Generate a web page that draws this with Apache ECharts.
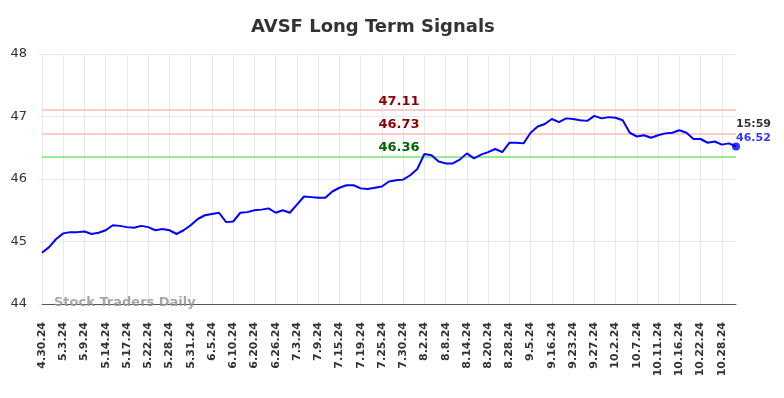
<!DOCTYPE html>
<html>
<head>
<meta charset="utf-8">
<script src="https://cdn.jsdelivr.net/npm/echarts@6/dist/echarts.min.js"></script>
<style>
  html, body { margin: 0; padding: 0; background: #fff; }
  #chart { width: 784px; height: 398px; }
</style>
</head>
<body>
<div id="chart"></div>
<script>
// tick labels shown under the axis, one every 3 points
var dateLabels = ['4.30.24', '5.3.24', '5.9.24', '5.14.24', '5.17.24', '5.22.24', '5.28.24', '5.31.24',
    '6.5.24', '6.10.24', '6.20.24', '6.26.24', '7.3.24', '7.9.24', '7.15.24', '7.19.24', '7.25.24',
    '7.30.24', '8.2.24', '8.8.24', '8.14.24', '8.20.24', '8.28.24', '9.5.24', '9.16.24', '9.23.24',
    '9.27.24', '10.2.24', '10.7.24', '10.11.24', '10.16.24', '10.22.24', '10.28.24']

// closing prices
var prices = [44.82, 44.91, 45.04, 45.13, 45.15, 45.15, 45.16, 45.12, 45.14, 45.18,
    45.26, 45.25, 45.23, 45.22, 45.25, 45.23, 45.18, 45.20, 45.18, 45.12,
    45.18, 45.26, 45.36, 45.42, 45.44, 45.46, 45.31, 45.32, 45.46, 45.47,
    45.50, 45.51, 45.53, 45.46, 45.50, 45.46, 45.59, 45.72, 45.71, 45.70,
    45.70, 45.80, 45.86, 45.90, 45.90, 45.85, 45.84, 45.86, 45.88, 45.96,
    45.98, 45.99, 46.06, 46.16, 46.40, 46.38, 46.28, 46.25, 46.25, 46.31,
    46.41, 46.33, 46.39, 46.43, 46.48, 46.43, 46.58, 46.58, 46.57, 46.74,
    46.84, 46.88, 46.96, 46.91, 46.97, 46.96, 46.94, 46.93, 47.01, 46.97,
    46.99, 46.98, 46.94, 46.74, 46.68, 46.70, 46.66, 46.70, 46.73, 46.74,
    46.78, 46.74, 46.64, 46.64, 46.58, 46.60, 46.55, 46.57, 46.52]

var resistLevels = [47.11, 46.73]
var supportLevels = [46.36]
var lastTime = '15:59'

var categories = []
for (var i = 0; i < prices.length; i++) {
    categories.push(i % 3 === 0 && dateLabels[i / 3] ? dateLabels[i / 3] : '')
}
var lastIdx = prices.length - 1

var font = 'DejaVu Sans'

var markData = []
resistLevels.forEach(function (v) {
    markData.push({
        yAxis: v,
        lineStyle: { color: '#ffcccc', width: 2, type: 'solid' },
        label: { color: '#8b0000' }
    })
})
supportLevels.forEach(function (v) {
    markData.push({
        yAxis: v,
        lineStyle: { color: '#90ee90', width: 2, type: 'solid' },
        label: { color: '#006400' }
    })
})

var myChart = echarts.init(document.getElementById('chart'))
var option = {
    animation: false,
    textStyle: { fontFamily: font },
    title: {
        text: 'AVSF Long Term Signals',
        left: 251, top: 18,
        padding: 0,
        textStyle: { fontSize: 18, fontWeight: 'bold', color: '#333', fontFamily: font }
    },
    grid: { left: 42, right: 48, top: 54, bottom: 94, containLabel: false },
    xAxis: {
        type: 'category',
        data: categories,
        boundaryGap: false,
        axisLine: { lineStyle: { color: '#555', width: 1 } },
        axisTick: { show: false },
        axisLabel: {
            interval: 2, rotate: 90, margin: 18,
            fontSize: 11, fontWeight: 'bold', color: '#333', fontFamily: font
        },
        splitLine: { show: true, interval: 2, lineStyle: { color: '#e8e8e8', width: 1 } }
    },
    yAxis: {
        type: 'value',
        min: 44, max: 48, interval: 1,
        axisLine: { show: false },
        axisTick: { show: true, length: 3, lineStyle: { color: '#e8e8e8' } },
        axisLabel: { fontSize: 13, color: '#333', margin: 15, fontFamily: font },
        splitLine: { lineStyle: { color: '#e8e8e8', width: 1 } }
    },
    graphic: [{
        type: 'text',
        left: 54, top: 296,
        style: {
            text: 'Stock Traders Daily',
            fill: 'rgba(150,150,150,0.85)',
            font: 'bold 13px "DejaVu Sans"'
        },
        z: 10
    }],
    series: [{
        type: 'line',
        data: prices,
        symbol: 'none',
        lineStyle: { color: '#0000ff', width: 2 },
        itemStyle: { color: '#0000ff' },
        z: 5,
        markLine: {
            silent: true,
            symbol: ['none', 'none'],
            z: 3,
            label: {
                show: true,
                position: 'insideMiddleTop',
                distance: 2,
                offset: [10, 0],
                fontSize: 13,
                fontWeight: 'bold',
                fontFamily: font,
                formatter: function (p) { return p.value.toFixed(2) }
            },
            data: markData
        }
    }, {
        type: 'scatter',
        data: [[lastIdx, prices[lastIdx]]],
        symbol: 'circle',
        symbolSize: 8,
        itemStyle: { color: '#0000ff' },
        z: 6,
        label: {
            show: true,
            position: [4, -25],
            align: 'left',
            verticalAlign: 'top',
            formatter: function (p) {
                return '{t|' + lastTime + '}\n{v|' + p.value[1].toFixed(2) + '}'
            },
            rich: {
                t: { fontSize: 11, fontWeight: 'bold', color: '#000', lineHeight: 14, fontFamily: font },
                v: { fontSize: 11, fontWeight: 'bold', color: '#0000ff', lineHeight: 14, fontFamily: font }
            }
        }
    }]
}
myChart.setOption(option)
</script>
</body>
</html>
